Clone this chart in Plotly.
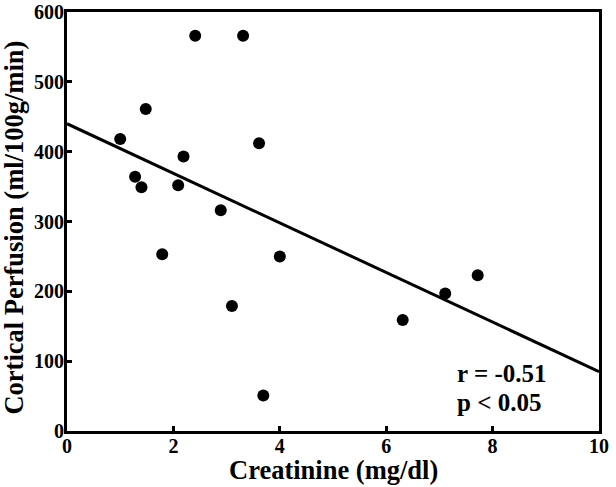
import plotly.graph_objects as go

# Creatinine (mg/dl) vs cortical perfusion (ml/100g/min)
creatinine = [1.0, 1.48, 1.28, 1.40, 1.79, 2.09, 2.19, 2.41, 2.89, 3.10,
              3.31, 3.61, 3.69, 4.0, 6.31, 7.11, 7.72]
perfusion = [418, 461, 364, 349, 253, 352, 393, 566, 316, 179,
             566, 412, 51, 250, 159, 197, 223]

# regression line end points
fit_x = [0, 10]
fit_y = [440, 85]

FONT = "Liberation Serif"

fig = go.Figure()
fig.add_trace(go.Scatter(x=fit_x, y=fit_y, mode="lines",
                         line=dict(color="black", width=3), showlegend=False))
fig.add_trace(go.Scatter(x=creatinine, y=perfusion, mode="markers",
                         marker=dict(color="black", size=12), showlegend=False))

stat_font = dict(family=FONT, size=25, color="black", weight="bold")
fig.add_annotation(x=0.730, y=0.138, xref="paper", yref="paper",
                   text="r = -0.51", showarrow=False,
                   xanchor="left", yanchor="middle", font=stat_font)
fig.add_annotation(x=0.730, y=0.069, xref="paper", yref="paper",
                   text="p < 0.05", showarrow=False,
                   xanchor="left", yanchor="middle", font=stat_font)
# axis titles placed as annotations
title_font = dict(family=FONT, size=26.5, color="black", weight="bold")
fig.add_annotation(x=0.5, y=-0.092, xref="paper", yref="paper",
                   text="Creatinine (mg/dl)", showarrow=False,
                   xanchor="center", yanchor="middle", font=title_font)
fig.add_annotation(x=-0.100, y=0.485, xref="paper", yref="paper",
                   text="Cortical Perfusion (ml/100g/min)", showarrow=False,
                   textangle=-90, xanchor="center", yanchor="middle", font=title_font)

axis = dict(showgrid=False, zeroline=False, showline=True, linecolor="black",
            linewidth=3, mirror=True, ticks="inside", ticklen=5, tickwidth=3,
            tickcolor="black", automargin=False,
            tickfont=dict(family=FONT, size=20, color="black", weight="bold"))

fig.update_layout(
    width=616, height=487,
    margin=dict(l=67, r=17, t=12, b=56),
    paper_bgcolor="white", plot_bgcolor="white",
    font=dict(family=FONT, color="black"),
    xaxis=dict(range=[0, 10], dtick=2, tick0=0, ticklabelstandoff=-5, **axis),
    yaxis=dict(range=[0, 600], dtick=100, tick0=0, ticklabelstandoff=-4, **axis),
)

fig.write_html("out.html", config={"displayModeBar": False},
               post_script="document.body.style.margin='0';")
